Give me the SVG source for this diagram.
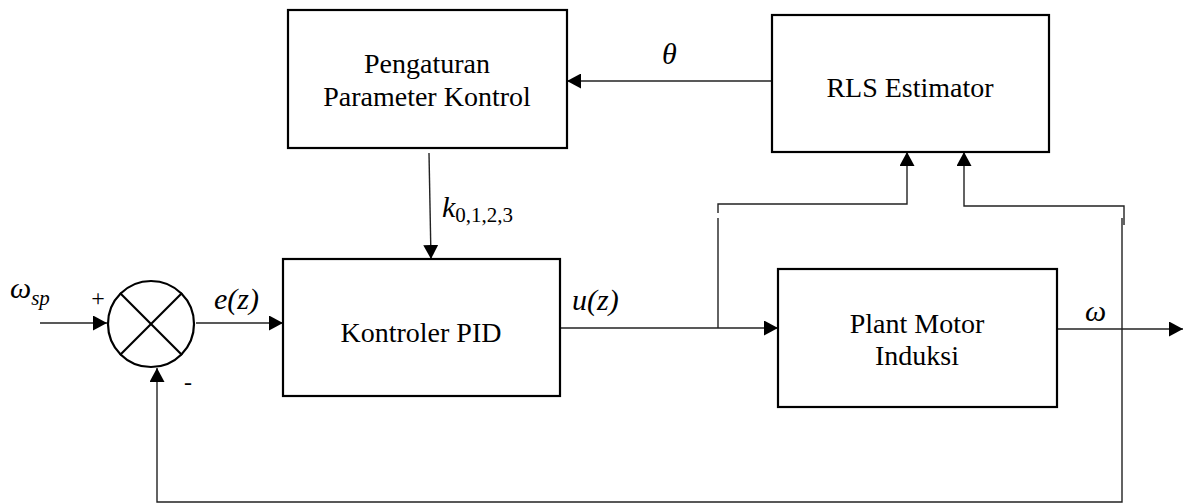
<svg xmlns="http://www.w3.org/2000/svg" width="1184" height="504" viewBox="0 0 1184 504">
  <style>
    .box { fill: #fff; stroke: #000; stroke-width: 2.2; }
    .wire { fill: none; stroke: #222; stroke-width: 1.4; }
    .lbl { font-family: 'Liberation Serif', 'Times New Roman', Tinos, 'DejaVu Serif', serif; font-size: 28px; fill: #000; text-anchor: middle; }
    .math { font-family: 'Liberation Serif', 'Times New Roman', Tinos, 'DejaVu Serif', serif; font-style: italic; font-size: 30px; fill: #000; }
    .sub { font-size: 21px; font-style: normal; }
    .sign { font-family: 'Liberation Serif', 'Times New Roman', 'DejaVu Serif', serif; fill: #000; text-anchor: middle; }
  </style>
  <defs>
    <marker id="arrow" markerUnits="userSpaceOnUse" markerWidth="15" markerHeight="15" refX="14" refY="7.5" orient="auto">
      <path d="M0,0 L14,7.5 L0,15 z" fill="#000"/>
    </marker>
  </defs>
  <rect width="1184" height="504" fill="#fff"/>

  <!-- connectors -->
  <g id="connectors">
    <line class="wire" x1="40" y1="323" x2="107" y2="323" marker-end="url(#arrow)"/>
    <line class="wire" x1="196" y1="323" x2="283" y2="323" marker-end="url(#arrow)"/>
    <line class="wire" x1="772" y1="81" x2="567" y2="81" marker-end="url(#arrow)"/>
    <line class="wire" x1="429" y1="153" x2="431" y2="259" marker-end="url(#arrow)"/>
    <line class="wire" x1="560" y1="328" x2="778" y2="328" marker-end="url(#arrow)"/>
    <!-- control signal tap to estimator -->
    <path class="wire" d="M718,328 V218"/>
    <path class="wire" d="M718,213 V204 H907 V152" marker-end="url(#arrow)"/>
    <!-- speed tap to estimator -->
    <path class="wire" d="M1124,225 V206 H964 V152" marker-end="url(#arrow)"/>
    <!-- output -->
    <line class="wire" x1="1057" y1="329" x2="1183" y2="329" marker-end="url(#arrow)"/>
    <!-- feedback loop -->
    <path class="wire" d="M1122,218 V502 H157 V368" marker-end="url(#arrow)"/>
  </g>

  <!-- summing junction -->
  <g id="sum">
    <circle cx="151" cy="324" r="43" fill="#fff" stroke="#000" stroke-width="2.2"/>
    <line x1="120" y1="293" x2="182" y2="355" stroke="#000" stroke-width="2.2"/>
    <line x1="182" y1="293" x2="120" y2="355" stroke="#000" stroke-width="2.2"/>
    <text class="sign" x="98" y="306" font-size="24">+</text>
    <text class="sign" x="188" y="390" font-size="24">-</text>
  </g>

  <g id="pengaturan">
    <rect class="box" x="288" y="10" width="279" height="138"/>
    <text class="lbl" x="427" y="73">Pengaturan</text>
    <text class="lbl" x="427" y="106">Parameter Kontrol</text>
  </g>

  <g id="rls">
    <rect class="box" x="772" y="15" width="277" height="137"/>
    <text class="lbl" x="910" y="97">RLS Estimator</text>
  </g>

  <g id="pid">
    <rect class="box" x="283" y="259" width="277" height="137"/>
    <text class="lbl" x="421" y="342">Kontroler PID</text>
  </g>

  <g id="plant">
    <rect class="box" x="778" y="269" width="279" height="138"/>
    <text class="lbl" x="917" y="333">Plant Motor</text>
    <text class="lbl" x="917" y="365">Induksi</text>
  </g>

  <!-- signal labels -->
  <g id="labels">
    <text class="math" x="10" y="298">ω<tspan font-size="21" dy="7">sp</tspan></text>
    <text class="math" x="214" y="309">e(z)</text>
    <text class="math" x="572" y="310">u(z)</text>
    <text class="math" x="662" y="64">θ</text>
    <text class="math" x="442" y="217">k<tspan class="sub" dy="5">0,1,2,3</tspan></text>
    <text class="math" x="1085" y="321">ω</text>
  </g>
</svg>
